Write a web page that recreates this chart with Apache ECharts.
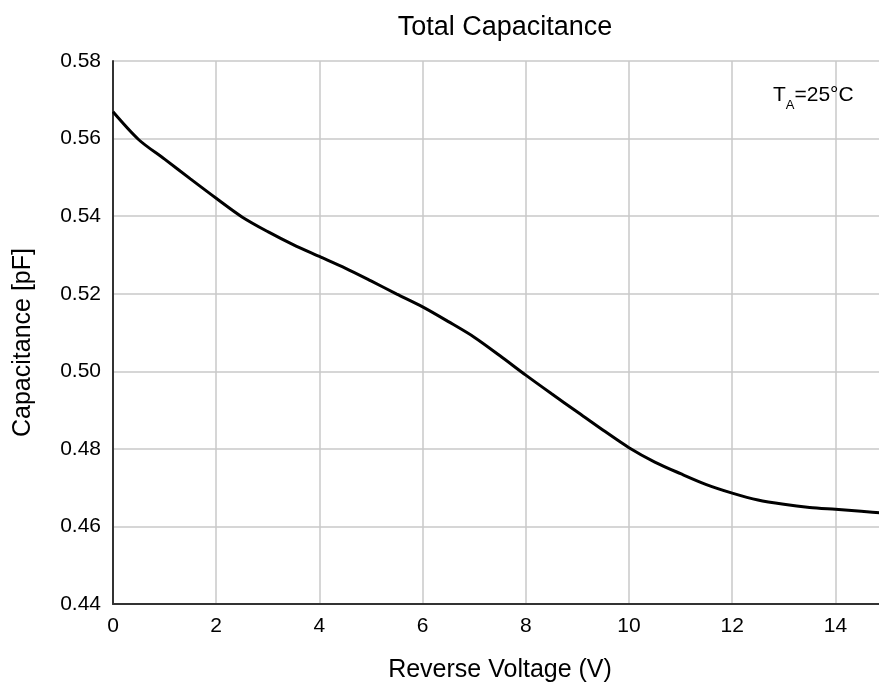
<!DOCTYPE html>
<html>
<head>
<meta charset="utf-8">
<script src="https://cdn.jsdelivr.net/npm/echarts@6/dist/echarts.min.js"></script>
<style>html,body{margin:0;padding:0;background:#fff;overflow:hidden}#c{width:887px;height:694px}</style>
</head>
<body>
<div id="c"></div>
<script>
const voltage = [0,0.5,1,1.5,2,2.5,3,3.5,4,4.5,5,5.5,6,6.5,7,7.5,8,8.5,9,9.5,10,10.5,11,11.5,12,12.5,13,13.5,14,14.5,15];
const capacitance = [0.5669,0.5597,0.5547,0.5496,0.5446,0.5398,0.5360,0.5326,0.5296,0.5266,0.5233,0.5199,0.5166,0.5128,0.5088,0.5040,0.4990,0.4942,0.4895,0.4848,0.4803,0.4766,0.4736,0.4708,0.4686,0.4668,0.4657,0.4649,0.4644,0.4639,0.4634];
const titleText = 'Total Capacitance';
const xName = 'Reverse Voltage (V)';
const yName = 'Capacitance [pF]';

const F = 'Liberation Sans, Arial, sans-serif';
const chart = echarts.init(document.getElementById('c'), null, {renderer:'canvas'});
chart.setOption({
  animation:false,
  backgroundColor:'#fff',
  title:[{
    text:titleText, left:500, top:9, textAlign:'center',
    textStyle:{fontFamily:F, fontSize:27, fontWeight:'normal', color:'#000'}
  },{
    text:'{a|T}{s|A}{a|=25°C}', left:768, top:80,
    textStyle:{fontWeight:'normal', rich:{
      a:{fontFamily:F, fontSize:21, fontWeight:'normal', color:'#000', verticalAlign:'bottom'},
      s:{fontFamily:F, fontSize:13, fontWeight:'normal', color:'#000', verticalAlign:'bottom', padding:[0,0,-6,0]}
    }}
  }],
  grid:{left:113, top:61, right:0, bottom:90, containLabel:false},
  xAxis:{
    type:'value', min:0, max:15, interval:2,
    name:xName, nameLocation:'middle', nameGap:54,
    nameTextStyle:{fontFamily:F, fontSize:25, color:'#000'},
    axisLine:{show:true, lineStyle:{color:'#333', width:2}},
    axisTick:{show:false},
    axisLabel:{fontFamily:F, fontSize:21, color:'#000', margin:12, showMaxLabel:false},
    splitLine:{show:true, lineStyle:{color:'#c8c8c8', width:1.5}}
  },
  yAxis:{
    type:'value', min:0.44, max:0.58, interval:0.02,
    name:yName, nameLocation:'middle', nameGap:77,
    nameTextStyle:{fontFamily:F, fontSize:25, color:'#000', padding:[0,20,0,0]},
    axisLine:{show:true, lineStyle:{color:'#333', width:2}},
    axisTick:{show:false},
    axisLabel:{fontFamily:F, fontSize:21, color:'#000', margin:12, formatter:v=>v.toFixed(2)},
    splitLine:{show:true, lineStyle:{color:'#c8c8c8', width:1.5}}
  },
  series:[{
    type:'line', smooth:0.3, symbol:'none',
    data:voltage.map((v,i)=>[v,capacitance[i]]),
    lineStyle:{color:'#000', width:3}
  }]
});
</script>
</body>
</html>
